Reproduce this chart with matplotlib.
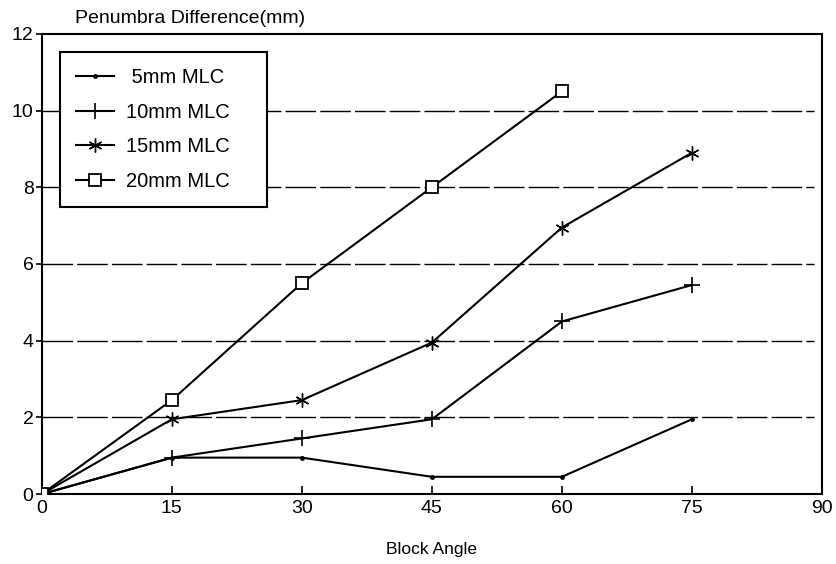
import matplotlib.pyplot as plt
import numpy as np

plt.rcParams['font.family'] = ['Liberation Sans', 'DejaVu Sans']

# data
angles = [0, 15, 30, 45, 60, 75]
mlc_5 = [0, 0.95, 0.95, 0.45, 0.45, 1.95]
mlc_10 = [0, 0.95, 1.45, 1.95, 4.5, 5.45]
mlc_15 = [0, 1.95, 2.45, 3.95, 6.95, 8.9]
angles_20 = [0, 15, 30, 45, 60]
mlc_20 = [0, 2.45, 5.5, 8.0, 10.5]

fig = plt.figure(figsize=(8.37, 5.64), dpi=100)
ax = fig.add_axes([0.050, 0.124, 0.932, 0.816])

# dashed horizontal grid
for yv in [2, 4, 6, 8, 10]:
	ax.axhline(yv, xmin=0, xmax=0.99, color='black', lw=1.0, dashes=(22, 3), zorder=1)

ax.plot(angles, mlc_5, color='black', lw=1.5, marker='o', ms=2.5, label=' 5mm MLC', zorder=3)
ax.plot(angles, mlc_10, color='black', lw=1.5, marker='+', ms=11, mew=1.2, label='10mm MLC', zorder=3)
ax.plot(angles, mlc_15, color='black', lw=1.5, marker=(6, 2, 0), ms=10, mew=1.0, label='15mm MLC', zorder=3)
ax.plot(angles_20, mlc_20, color='black', lw=1.5, marker='s', ms=8, mfc='white', mew=1.3, label='20mm MLC', zorder=3)

ax.set_xlim(0, 90)
ax.set_ylim(0, 12)
ax.set_xticks([0, 15, 30, 45, 60, 75, 90])
ax.set_yticks([0, 2, 4, 6, 8, 10, 12])
ax.tick_params(axis='x', direction='in', length=6, width=1.2, labelsize=14, pad=4)
ax.tick_params(axis='y', direction='out', length=4, width=1.2, labelsize=14, pad=2)
for s in ax.spines.values():
	s.set_linewidth(1.5)

ax.set_xlabel('Block Angle', fontsize=12.5, labelpad=18)
fig.text(0.09, 0.968, 'Penumbra Difference(mm)', fontsize=14, va='center', ha='left')

leg = ax.legend(loc='upper left', bbox_to_anchor=(0.023, 0.624, 0.265, 0.337), mode='expand',
	borderaxespad=0, fontsize=14.5,
	frameon=True, fancybox=False, edgecolor='black', framealpha=1,
	handlelength=1.9, handletextpad=0.6, labelspacing=0.78, borderpad=0.8)
leg.get_frame().set_linewidth(1.5)
leg.set_zorder(5)

plt.savefig('out.png', dpi=100)
